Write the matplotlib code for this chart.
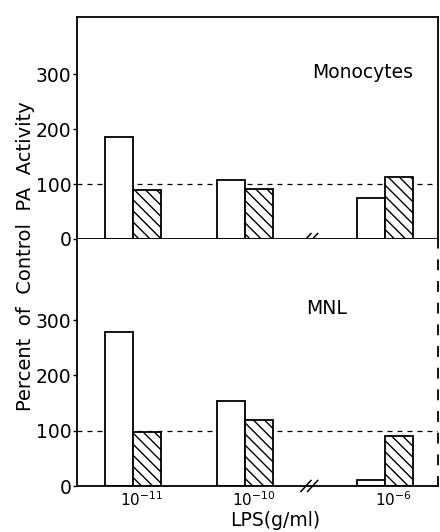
import numpy as np
import matplotlib.pyplot as plt

# LPS doses (g/ml) and readings
doses = [r'$10^{-11}$', r'$10^{-10}$', r'$10^{-6}$']
group_pos = [0, 4, 9]
mono_open = [185, 107, 74]
mono_hatched = [90, 91, 113]
mnl_open = [278, 153, 11]
mnl_hatched = [98, 120, 91]
yticks = [0, 100, 200, 300]

plt.rcParams['font.family'] = 'DejaVu Sans'
plt.rcParams['mathtext.fontset'] = 'dejavusans'
plt.rcParams['hatch.linewidth'] = 1.0

fig = plt.figure(figsize=(4.4, 5.32), dpi=100)
left, right = 77 / 440, 438 / 440
y_top, y_mid, y_bot = 1 - 17 / 532, 1 - 239 / 532, 1 - 486 / 532
ax1 = fig.add_axes([left, y_mid, right - left, y_top - y_mid])
ax2 = fig.add_axes([left, y_bot, right - left, y_mid - y_bot])

x = np.array(group_pos, dtype=float)
w = 1.0
brk = 6.3

for ax, op, ha, ymax, name, npos in [
    (ax1, mono_open, mono_hatched, 404, 'Monocytes', (0.79, 0.75)),
    (ax2, mnl_open, mnl_hatched, 447, 'MNL', (0.69, 0.72)),
]:
    ax.axhline(100, color='black', lw=0.9, ls=(0, (4, 4)), zorder=1)
    ax.bar(x - w / 2, op, width=w, color='white', edgecolor='black',
           linewidth=1.3, zorder=2)
    ax.bar(x + w / 2, ha, width=w, color='white', edgecolor='black',
           hatch='\\\\\\', linewidth=1.3, zorder=2)
    ax.set_xlim(-2, 10.9)
    ax.set_ylim(0, ymax)
    ax.set_yticks(yticks)
    ax.tick_params(axis='y', direction='out', length=3, width=1,
                   labelsize=13.5, pad=1)
    # axis break mark on the zero line
    for dx in (-0.12, 0.12):
        ax.plot([brk + dx - 0.18, brk + dx + 0.18], [-10, 10], color='black',
                lw=1.1, clip_on=False, zorder=3)
    ax.text(npos[0], npos[1], name, transform=ax.transAxes, ha='center',
            va='center', fontsize=13.5)
    for s in ax.spines.values():
        s.set_linewidth(1.3)

ax1.set_xticks([])
ax2.spines['top'].set_visible(False)
ax2.spines['right'].set_linestyle((0, (5, 7)))
ax2.set_xticks(x + 0.3)
ax2.set_xticklabels(doses, fontsize=11)
ax2.tick_params(axis='x', length=0, pad=3)

fig.text(26 / 440, 1 - 256 / 532, 'Percent  of  Control  PA  Activity',
         rotation=90, ha='center', va='center', fontsize=14)
fig.text(275 / 440, 1 - 520 / 532, 'LPS(g/ml)', ha='center', va='center',
         fontsize=13.5)

fig.savefig('out.png', dpi=100)
